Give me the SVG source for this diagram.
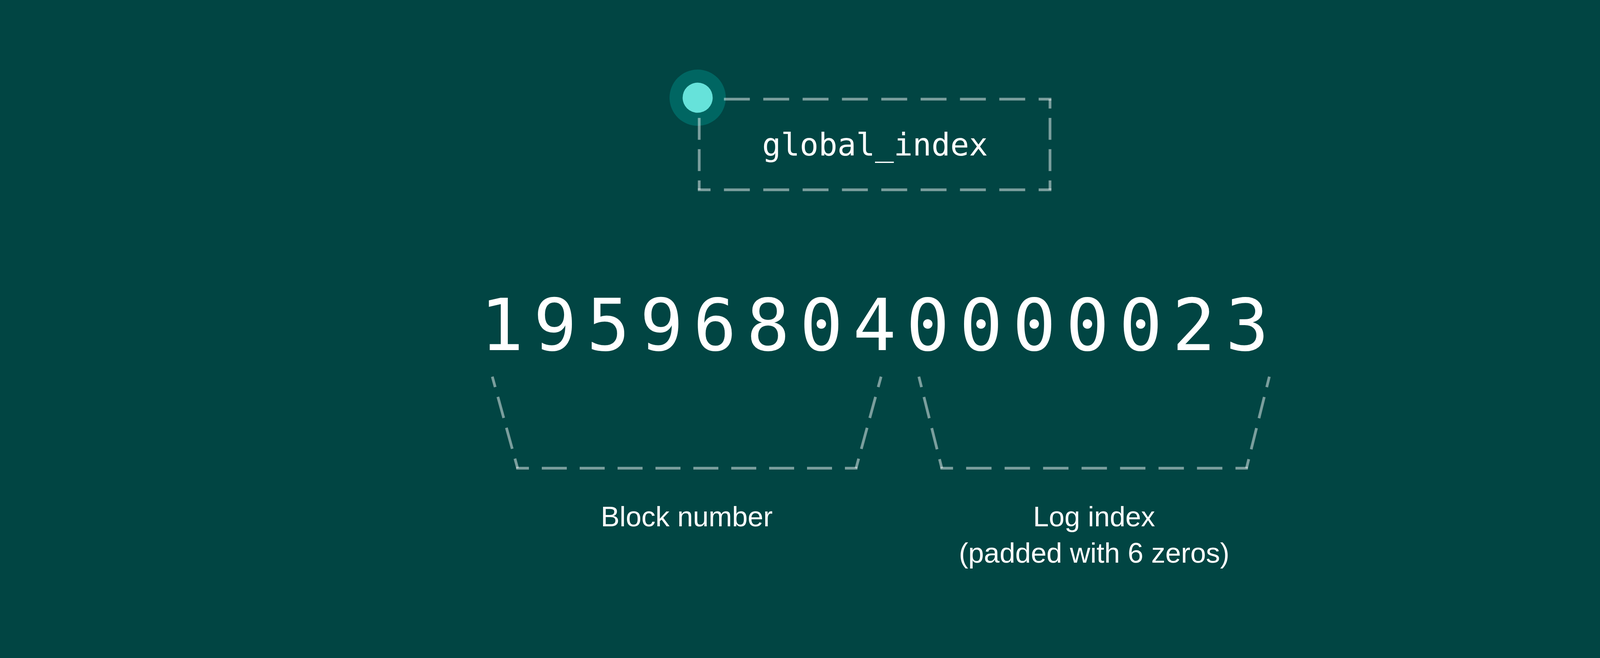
<svg xmlns="http://www.w3.org/2000/svg" width="4478" height="1684" viewBox="0 0 4478 1684">
  <style>
    .dash { fill: none; stroke: #ffffff; stroke-opacity: 0.48; stroke-width: 7; stroke-linecap: butt; }
    .h { stroke-dasharray: 66.3 34.4; stroke-dashoffset: 33.9; }
    .v { stroke-dasharray: 56 24; stroke-dashoffset: 32; }
    .s { stroke-dasharray: 56 26; stroke-dashoffset: 28.4; }
    .mono { font-family: "DejaVu Sans Mono", "Liberation Mono", monospace; fill: #ffffff; }
    .label { font-family: "Liberation Sans", Arial, sans-serif; font-size: 72px; fill: #ffffff; text-anchor: middle; }
  </style>
  <rect x="0" y="0" width="4478" height="1684" fill="#014543"/>

  <g id="global-index-node">
    <circle cx="1786" cy="250" r="72" fill="#006662"/>
    <line class="dash h" x1="1786.5" y1="253.7" x2="2691.5" y2="253.7"/>
    <line class="dash h" x1="1786.5" y1="485.8" x2="2691.5" y2="485.8"/>
    <line class="dash v" x1="1790" y1="253.7" x2="1790" y2="485.8"/>
    <line class="dash v" x1="2688" y1="253.7" x2="2688" y2="485.8"/>
    <circle cx="1786" cy="250" r="38.5" fill="#66E2DA"/>
    <text class="mono" x="2240" y="398" font-size="80" text-anchor="middle">global_index</text>
  </g>

  <g id="number-node">
    <text class="mono" x="1229.5" y="896" font-size="184" letter-spacing="25.5">195968040000023</text>
  </g>

  <g id="connectors">
    <g id="block-bracket">
      <line class="dash s" x1="1260.3" y1="964" x2="1325" y2="1198.3"/>
      <line class="dash" stroke-dasharray="64 33" stroke-dashoffset="31.5" x1="1321.5" y1="1198.3" x2="2195" y2="1198.3"/>
      <line class="dash s" x1="2255.5" y1="964" x2="2191.5" y2="1198.3"/>
    </g>
    <g id="log-bracket">
      <line class="dash s" x1="2352.3" y1="964" x2="2411" y2="1198.3"/>
      <line class="dash" stroke-dasharray="65 33.5" stroke-dashoffset="32.7" x1="2407.5" y1="1198.3" x2="3194.5" y2="1198.3"/>
      <line class="dash s" x1="3249.5" y1="964" x2="3191" y2="1198.3"/>
    </g>
  </g>

  <g id="block-number-label">
    <text class="label" x="1758" y="1347">Block number</text>
  </g>
  <g id="log-index-label">
    <text class="label" x="2801" y="1347">Log index</text>
    <text class="label" x="2801" y="1440">(padded with 6 zeros)</text>
  </g>
</svg>
